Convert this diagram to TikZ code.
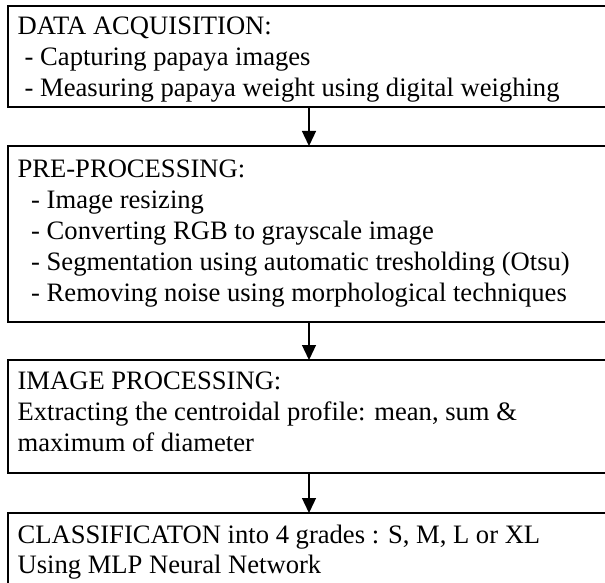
\documentclass[tikz,border=0pt]{standalone}
\usepackage{fontspec}
\setmainfont{Liberation Serif}
\usetikzlibrary{arrows.meta}
\begin{document}
\begin{tikzpicture}[x=1pt,y=-1pt,
  box/.style={draw, line width=1.6pt, minimum width=602.6pt, inner sep=0pt, outer sep=0pt, anchor=north west},
  txt/.style={anchor=base west, inner sep=0pt, font=\fontsize{26.6}{31}\selectfont},
  arr/.style={line width=1.3pt, -{Triangle[length=15pt,width=14pt]}}]
\useasboundingbox (0,0) rectangle (605,583);
% boxes
\node[box, minimum height=101pt] (b1) at (7.7,6) {};
\node[box, minimum height=176pt] (b2) at (7.7,146) {};
\node[box, minimum height=113pt] (b3) at (7.7,360) {};
\node[box, minimum height=90pt]  (b4) at (7.7,513) {};
% texts
\node[txt] (t11) at (17.4,35) {DATA ACQUISITION:};
\node[txt] (t12) at (24.5,66) {- Capturing papaya images};
\node[txt] (t13) at (24.5,97) {- Measuring papaya weight using digital weighing};
\node[txt] (t21) at (17.4,177) {PRE-PROCESSING:};
\node[txt] (t22) at (31,208) {- Image resizing};
\node[txt] (t23) at (31,239) {- Converting RGB to grayscale image};
\node[txt] (t24) at (31,270) {- Segmentation using automatic tresholding (Otsu)};
\node[txt] (t25) at (31,301) {- Removing noise using morphological techniques};
\node[txt] (t31) at (17.4,389) {IMAGE PROCESSING:};
\node[txt] (t32) at (17.4,420) {Extracting the centroidal profile: mean, sum \&};
\node[txt] (t33) at (17.4,451) {maximum of diameter};
\node[txt] (t41) at (17.4,543) {CLASSIFICATON into 4 grades : S, M, L or XL};
\node[txt] (t42) at (17.4,573) {Using MLP Neural Network};
% arrows
\draw[arr] (b1.south) -- (b2.north);
\draw[arr] (b2.south) -- (b3.north);
\draw[arr] (b3.south) -- (b4.north);
\end{tikzpicture}
\end{document}
